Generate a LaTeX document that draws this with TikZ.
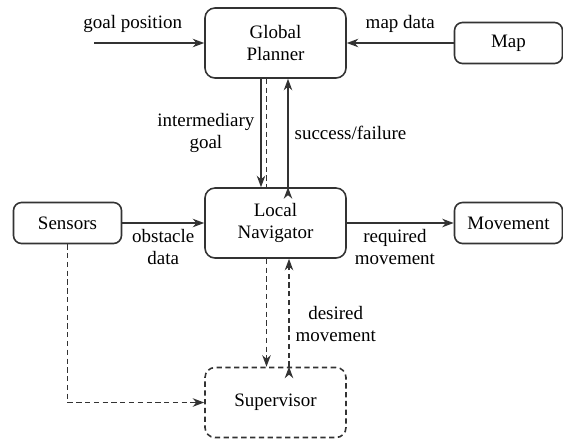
\documentclass[tikz,border=0pt]{standalone}
\usepackage{fontspec}
\setmainfont{Liberation Serif}
\usetikzlibrary{positioning, arrows.meta}

\begin{document}
\begin{tikzpicture}[>={Stealth[length=6.5pt, width=4.8pt, inset=2pt]},
    node distance=3.6cm, on grid, auto,
    font=\fontsize{10.8}{12.5}\selectfont,
    block/.style={draw=black!80, line width=0.9pt, rounded corners=0.2cm,
                  minimum width=2.82cm, minimum height=1.4cm, align=center},
    smallblock/.style={draw=black!80, line width=0.9pt, rounded corners=0.16cm,
                  minimum width=2.16cm, minimum height=0.82cm},
    flow/.style={draw=black!80, line width=0.9pt},
    dashflow/.style={flow, dash pattern=on 3pt off 2pt}]
    \useasboundingbox (0,0) rectangle (11.26,-8.8);

    \node[block] (planner) at (5.51,-0.86) {Global\\Planner};
    \node[block] (navigator) [below=of planner] {Local\\Navigator};
    \node[block, dashflow] (supervisor) [below=3.59cm of navigator] {Supervisor};
    \node[smallblock] (sensors) [left=4.16cm of navigator] {Sensors};
    \node[smallblock] (movement) [right=4.66cm of navigator] {Movement};
    \node[smallblock] (map) [right=4.66cm of planner] {Map};
    \coordinate[left=2.2cm of planner.west] (goal);

        \path[->, flow]
        (goal)      edge node[pos=0.35, above=2pt] {goal position} (planner)
        (map)       edge node[above=2pt] {map data} (planner)
        ([xshift=-0.29cm]planner.south)
                    edge node[left, align=center] {intermediary\\goal}
                    ([xshift=-0.29cm]navigator.north)
        ([xshift=0.25cm]navigator.north)
                    edge node[right] {success/failure}
                    ([xshift=0.25cm]planner.south)
        (sensors)   edge node[below, align=center] {obstacle\\data} (navigator)
        (navigator) edge node[below, pos=0.45, align=center] {required\\movement} (movement);

        \draw[dashflow] ([xshift=-0.18cm]planner.south) -- ([xshift=-0.18cm]navigator.north);
        \path[->, dashflow]
        ([xshift=-0.18cm]navigator.south)
                    edge ([xshift=-0.18cm]supervisor.north)
        ([xshift=0.27cm]supervisor.north)
                    edge node[right, pos=0.4, align=center] {desired\\movement}
                    ([xshift=0.27cm]navigator.south);
        \draw[->, dashflow] (sensors) |- (supervisor);

\end{tikzpicture}
\end{document}
